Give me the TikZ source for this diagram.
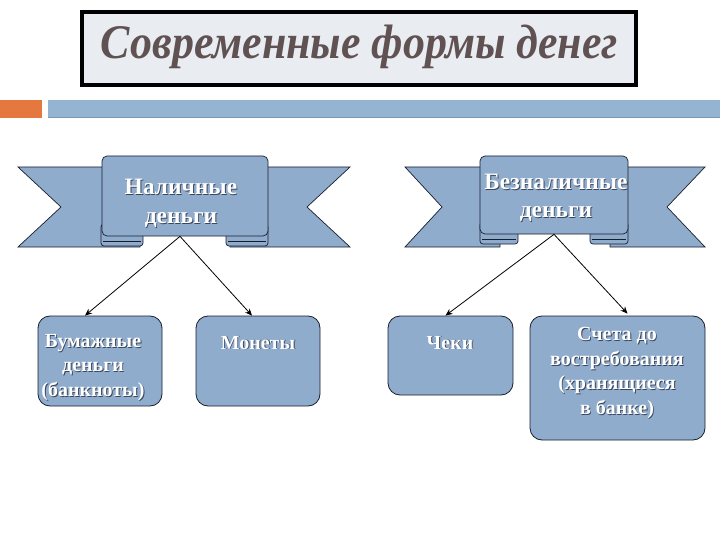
\documentclass[tikz,border=0pt]{standalone}
\usepackage{fontspec}
\setmainfont{Liberation Serif}
\usetikzlibrary{arrows.meta}
\definecolor{rib}{RGB}{143,172,205}
\definecolor{edgec}{RGB}{25,30,45}
\definecolor{titlefill}{RGB}{233,237,242}
\definecolor{titletext}{RGB}{96,82,82}
\definecolor{orangebar}{RGB}{228,120,62}
\definecolor{bluebar}{RGB}{148,180,210}
\definecolor{bluebarline}{RGB}{120,150,185}
\definecolor{shadowc}{RGB}{60,70,90}
\newcommand{\mysh}[1]{\leavevmode\rlap{\kern0.9pt\raisebox{-0.9pt}{\textcolor{shadowc}{#1}}}#1}
\tikzset{
  ribbonpart/.style={fill=rib, draw=edgec, line width=0.7pt},
  panel/.style={fill=rib, draw=edgec, line width=0.7pt, rounded corners=5pt, inner sep=0pt},
  leafbox/.style={fill=rib, draw=edgec, line width=0.8pt, rounded corners=12pt, inner sep=0pt},
  ribtext/.style={text=white, font=\fontsize{23.5}{28.5}\selectfont\bfseries, align=center, inner sep=0pt},
  boxtext/.style={text=white, font=\fontsize{20}{24.5}\selectfont\bfseries, align=center, inner sep=0pt},
  arr/.style={-{Stealth[length=7pt,width=6pt]}, line width=0.8pt, draw=black}
}
\begin{document}
\begin{tikzpicture}[x=1pt,y=-1pt]
\useasboundingbox (0,0) rectangle (720,540);
\fill[white] (0,0) rectangle (720,540);
% title
\draw[fill=titlefill, line width=4pt, draw=black] (82,12) rectangle (636,85);
\node[text=titletext, inner sep=0pt, xscale=0.955, yscale=1.05, font=\fontsize{46}{50}\selectfont\bfseries\itshape] (title) at (359.5,47) {Современные формы денег};
% bars
\fill[orangebar] (0,100) rectangle (42,118);
\fill[bluebar] (48,100) rectangle (720,118);
\draw[bluebarline, line width=1pt] (48,117.5) -- (720,117.5);
% left ribbon
\draw[ribbonpart] (18,167) -- (140,167) -- (140,247) -- (18,247) -- (61,207) -- cycle;
\draw[ribbonpart] (350,167) -- (230,167) -- (230,247) -- (350,247) -- (307,207) -- cycle;
\draw[ribbonpart, rounded corners=3pt] (101,224) rectangle (143,246);
\draw[edgec, line width=0.6pt] (103,241) -- (141,241);
\draw[ribbonpart, rounded corners=3pt] (226,224) rectangle (268,246);
\draw[edgec, line width=0.6pt] (228,241) -- (266,241);
\node[panel, minimum width=166, minimum height=80] (p1) at (185,196) {};
\node[ribtext] (p1t) at (181,204) {\mysh{Наличные}\\ \mysh{деньги}};
% right ribbon
\draw[ribbonpart] (405,167) -- (500,167) -- (500,247) -- (405,247) -- (442,207) -- cycle;
\draw[ribbonpart] (705,167) -- (610,167) -- (610,247) -- (705,247) -- (667,207) -- cycle;
\draw[ribbonpart, rounded corners=3pt] (480,222) rectangle (518,244);
\draw[edgec, line width=0.6pt] (482,239) -- (516,239);
\draw[ribbonpart, rounded corners=3pt] (590,222) rectangle (628,244);
\draw[edgec, line width=0.6pt] (592,239) -- (626,239);
\node[panel, minimum width=148, minimum height=78] (p2) at (554,195) {};
\node[ribtext] (p2t) at (556,198.5) {\mysh{Безналичные}\\ \mysh{деньги}};
% boxes
\node[leafbox, minimum width=124, minimum height=90] (b1) at (100,361) {};
\node[leafbox, minimum width=124, minimum height=90] (b2) at (258,361) {};
\node[leafbox, minimum width=125, minimum height=79] (b3) at (450.5,355.5) {};
\node[leafbox, minimum width=175, minimum height=124] (b4) at (617.5,378) {};
\node[boxtext] (b1t) at (93,368) {\mysh{Бумажные}\\ \mysh{деньги}\\ \mysh{(банкноты)}};
\node[boxtext] (b2t) at (258,343) {\mysh{Монеты}};
\node[boxtext] (b3t) at (450,343) {\mysh{Чеки}};
\node[boxtext] (b4t) at (617,373.5) {\mysh{Счета до}\\ \mysh{востребования}\\ \mysh{(хранящиеся}\\ \mysh{в банке)}};
% arrows
\draw[arr] ([xshift=-5pt]p1.south) -- ([xshift=-15pt]b1.north);
\draw[arr] ([xshift=-5pt]p1.south) -- ([xshift=-6pt]b2.north);
\draw[arr] (p2.south) -- ([xshift=-5pt]b3.north);
\draw[arr] (p2.south) -- ([xshift=10pt,yshift=2pt]b4.north);
\end{tikzpicture}
\end{document}
